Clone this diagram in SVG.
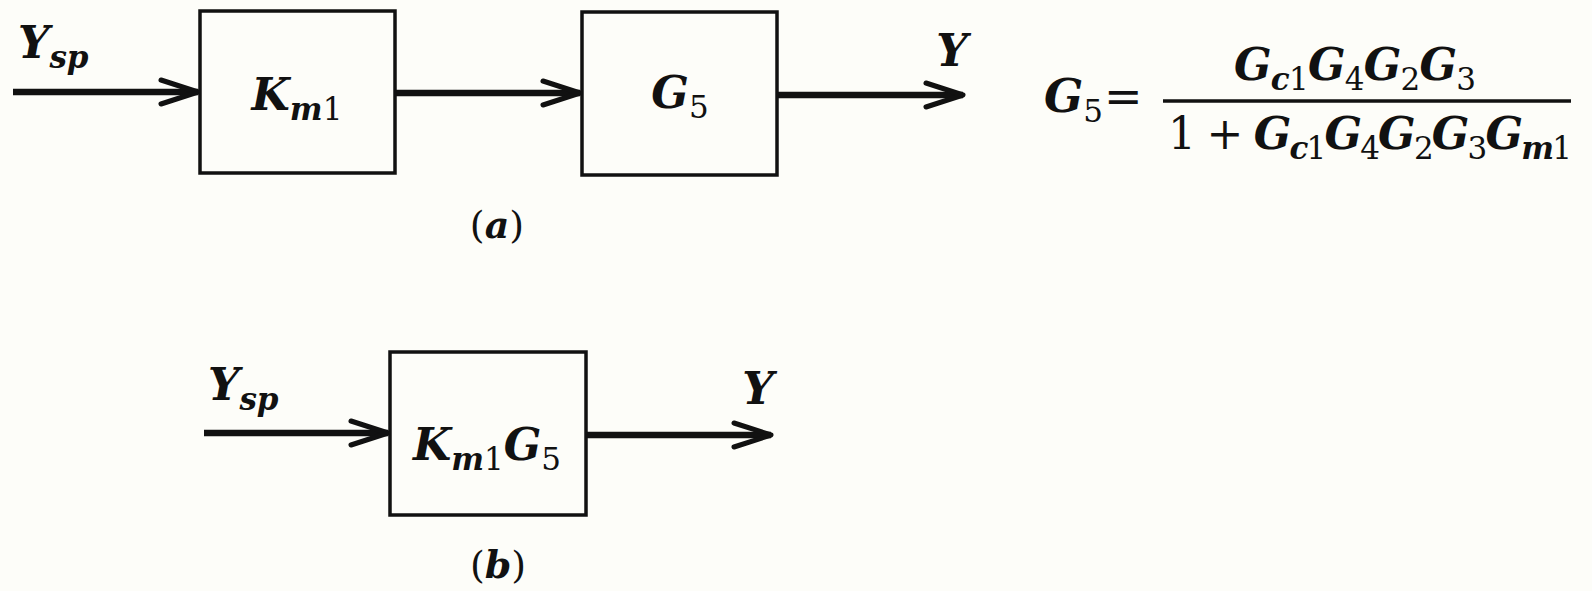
<svg xmlns="http://www.w3.org/2000/svg" width="1592" height="591" viewBox="0 0 1592 591">
<style>
  .bg { fill: #fdfdf9; }
  .box { fill: none; stroke: #111; stroke-width: 3.5; }
  .line { fill: none; stroke: #111; stroke-width: 6.5; }
  .bar { stroke: #111; stroke-width: 3.5; }
  .t { font-family: "DejaVu Serif", "Liberation Serif", serif; font-size: 44px; font-weight: bold; font-style: italic; fill: #111; }
  .big { font-size: 46px; }
  .s { font-size: 31px; }
  .d { font-style: normal; font-weight: normal; }
  .db { font-style: normal; font-weight: bold; }
  .cap { font-family: "DejaVu Serif", "Liberation Serif", serif; font-size: 38px; font-weight: bold; font-style: italic; fill: #111; }
  .n { font-style: normal; font-weight: normal; }
</style>
<defs>
  <marker id="chev" markerUnits="userSpaceOnUse" viewBox="-40 -16 44 32" markerWidth="44" markerHeight="32" refX="0" refY="0" orient="auto" overflow="visible">
    <path d="M-37,-12 L0,0 L-37,12" fill="none" stroke="#111" stroke-width="5" stroke-linejoin="round" stroke-linecap="round"/>
  </marker>
</defs>
<rect class="bg" x="0" y="0" width="1592" height="591"/>

<g id="connectors">
  <line class="line" x1="13" y1="92" x2="198" y2="92" marker-end="url(#chev)"/>
  <line class="line" x1="395" y1="93" x2="580" y2="93" marker-end="url(#chev)"/>
  <line class="line" x1="777" y1="95" x2="963" y2="95" marker-end="url(#chev)"/>
  <line class="line" x1="204" y1="433" x2="388" y2="433" marker-end="url(#chev)"/>
  <line class="line" x1="586" y1="435" x2="771" y2="435" marker-end="url(#chev)"/>
</g>

<g id="label-ysp-a">
  <text class="t" x="18" y="58">Y<tspan class="s" dy="10">sp</tspan></text>
</g>
<g id="node-km1">
  <rect class="box" x="200" y="11" width="195" height="162"/>
  <text class="t" x="297" y="110" text-anchor="middle">K<tspan class="s" dy="10">m</tspan><tspan class="s d">1</tspan></text>
</g>
<g id="node-g5">
  <rect class="box" x="582" y="12" width="195" height="163"/>
  <text class="t" x="680" y="108" text-anchor="middle">G<tspan class="s d" dy="10">5</tspan></text>
</g>
<g id="label-y-a">
  <text class="t" x="952" y="66" text-anchor="middle">Y</text>
</g>
<g id="caption-a">
  <text class="cap" x="497" y="238" text-anchor="middle"><tspan class="n">(</tspan>a<tspan class="n">)</tspan></text>
</g>

<g id="equation">
  <text class="t big" x="1044" y="112">G<tspan class="s d" dy="10">5</tspan><tspan class="d" x="1104" dy="-10">=</tspan></text>
  <line class="bar" x1="1163" y1="101" x2="1571" y2="101"/>
  <text class="t" x="1355" y="80" text-anchor="middle" textLength="242">G<tspan class="s" dy="10">c</tspan><tspan class="s d">1</tspan><tspan dy="-10">G</tspan><tspan class="s d" dy="10">4</tspan><tspan dy="-10">G</tspan><tspan class="s d" dy="10">2</tspan><tspan dy="-10">G</tspan><tspan class="s d" dy="10">3</tspan></text>
  <text class="t" x="1370" y="149" text-anchor="middle" textLength="404"><tspan class="d">1 + </tspan>G<tspan class="s" dy="10">c</tspan><tspan class="s d">1</tspan><tspan dy="-10">G</tspan><tspan class="s d" dy="10">4</tspan><tspan dy="-10">G</tspan><tspan class="s d" dy="10">2</tspan><tspan dy="-10">G</tspan><tspan class="s d" dy="10">3</tspan><tspan dy="-10">G</tspan><tspan class="s" dy="10">m</tspan><tspan class="s d">1</tspan></text>
</g>

<g id="label-ysp-b">
  <text class="t" x="208" y="400">Y<tspan class="s" dy="10">sp</tspan></text>
</g>
<g id="node-km1g5">
  <rect class="box" x="390" y="352" width="196" height="163"/>
  <text class="t" x="487" y="460" text-anchor="middle">K<tspan class="s" dy="10">m</tspan><tspan class="s d">1</tspan><tspan dy="-10">G</tspan><tspan class="s d" dy="10">5</tspan></text>
</g>
<g id="label-y-b">
  <text class="t" x="758" y="404" text-anchor="middle">Y</text>
</g>
<g id="caption-b">
  <text class="cap" x="498" y="578" text-anchor="middle"><tspan class="n">(</tspan>b<tspan class="n">)</tspan></text>
</g>
</svg>
